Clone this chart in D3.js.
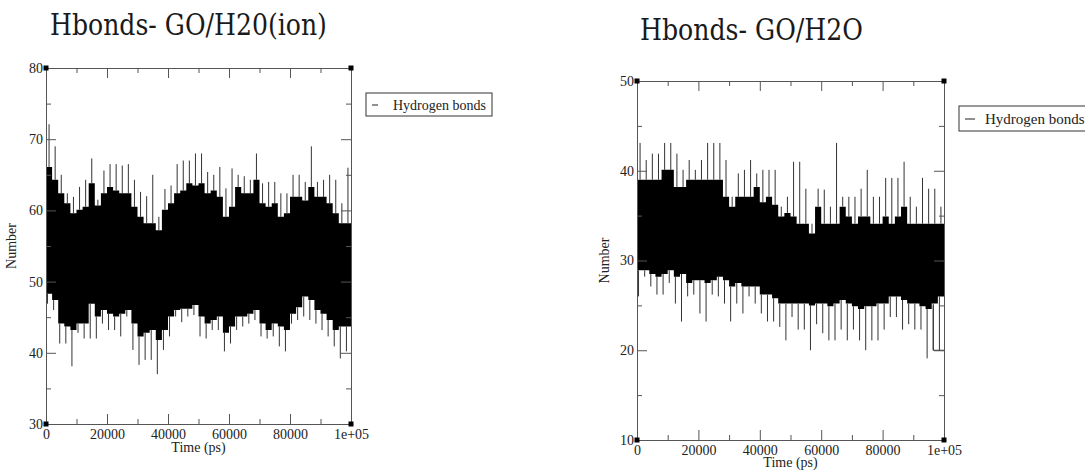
<!DOCTYPE html>
<html>
<head>
<meta charset="utf-8">
<script src="https://cdn.jsdelivr.net/npm/d3@7"></script>
<style>
  body { margin: 0; background: #fff; }
  svg { display: block; }
  .tick text { font-family: "Liberation Serif", "Times New Roman", serif; font-size: 14px; fill: #222; }
  .axis path, .axis line { stroke: #555; stroke-width: 1; }
  .label { font-family: "Liberation Serif", "Times New Roman", serif; font-size: 14px; fill: #222; }
  .title { font-family: "DejaVu Serif", serif; fill: #1a1a1a; }
</style>
</head>
<body>
<svg id="chart" width="1085" height="474"></svg>
<script>

// start time (ps) of each 2000 ps bin the traces were read in
var binTime = [0, 2000, 4000, 6000, 8000, 10000, 12000, 14000, 16000, 18000,
  20000, 22000, 24000, 26000, 28000, 30000, 32000, 34000, 36000, 38000,
  40000, 42000, 44000, 46000, 48000, 50000, 52000, 54000, 56000, 58000,
  60000, 62000, 64000, 66000, 68000, 70000, 72000, 74000, 76000, 78000,
  80000, 82000, 84000, 86000, 88000, 90000, 92000, 94000, 96000, 98000];

// GO/H2O(ion): highest spike, top of dense band, bottom of dense band, lowest spike per bin
var ionHigh = [72.1, 69.0, 65.0, 62.4, 61.9, 63.3, 64.3, 67.3, 61.5, 65.6,
  66.5, 66.5, 66.3, 66.5, 64.3, 62.6, 62.0, 65.0, 59.1, 63.0,
  63.5, 66.5, 67.0, 67.0, 68.0, 68.0, 65.4, 65.0, 66.1, 63.1,
  65.9, 65.0, 64.8, 64.3, 68.0, 63.8, 64.0, 64.0, 62.4, 62.4,
  65.0, 65.0, 64.0, 69.0, 64.0, 64.3, 65.0, 64.3, 61.0, 66.0];
var ionTop = [66.1, 64.3, 62.4, 61.0, 59.6, 60.1, 60.5, 63.8, 60.7, 62.4,
  63.3, 62.8, 62.4, 62.4, 60.5, 59.1, 58.2, 58.2, 57.2, 60.1,
  61.0, 62.4, 62.8, 63.8, 63.5, 63.8, 62.4, 62.8, 61.9, 59.1,
  60.5, 63.3, 62.4, 62.4, 64.3, 61.0, 60.5, 61.0, 59.1, 59.6,
  61.9, 61.9, 61.4, 63.3, 61.9, 61.9, 61.0, 59.6, 58.2, 58.2];
var ionBottom = [48.3, 47.4, 44.1, 43.7, 43.2, 44.1, 44.1, 46.9, 45.1, 46.0,
  45.5, 45.1, 45.5, 46.0, 44.1, 42.3, 42.8, 43.2, 41.8, 43.2,
  45.1, 46.0, 46.2, 46.2, 46.7, 45.1, 44.1, 44.6, 45.1, 42.8,
  43.7, 45.1, 45.1, 45.5, 46.0, 44.1, 43.2, 44.1, 43.7, 43.2,
  45.5, 46.4, 47.9, 47.4, 46.0, 45.5, 44.6, 43.2, 43.7, 43.7];
var ionLow = [46.9, 46.0, 41.3, 41.3, 38.1, 42.8, 42.0, 42.0, 42.0, 44.1,
  43.2, 43.2, 42.3, 45.1, 40.4, 38.3, 39.0, 39.0, 37.0, 40.4,
  42.3, 45.1, 44.3, 45.1, 45.3, 42.3, 42.0, 43.2, 43.2, 40.2,
  41.3, 43.2, 43.7, 44.1, 44.6, 42.3, 42.0, 42.3, 40.9, 40.2,
  44.1, 44.6, 45.1, 44.6, 44.1, 43.2, 42.3, 40.9, 39.2, 40.2];

// GO/H2O: same four envelopes
var waterHigh = [43.1, 41.2, 41.9, 41.9, 43.1, 43.1, 41.9, 40.1, 41.2, 40.1,
  41.2, 43.1, 43.1, 43.1, 41.2, 37.1, 39.7, 40.1, 41.2, 39.7,
  40.1, 40.1, 40.1, 36.0, 37.1, 41.0, 41.0, 38.0, 34.1, 38.0,
  37.9, 36.0, 43.1, 37.1, 37.1, 37.1, 38.0, 40.1, 37.1, 37.1,
  39.2, 39.2, 39.2, 41.0, 37.1, 36.0, 39.2, 38.0, 38.0, 36.0];
var waterTop = [39.0, 39.0, 39.0, 39.0, 40.1, 40.1, 38.2, 38.2, 39.0, 39.0,
  39.0, 39.0, 39.0, 39.0, 37.1, 36.0, 37.1, 37.1, 37.1, 38.2,
  36.5, 37.1, 36.2, 34.9, 35.3, 34.9, 34.1, 34.1, 33.0, 36.0,
  34.1, 34.1, 34.1, 36.0, 34.9, 34.1, 34.9, 34.9, 34.1, 34.1,
  34.9, 34.1, 34.9, 36.0, 34.1, 34.1, 34.1, 34.1, 34.1, 34.1];
var waterBottom = [28.9, 28.9, 28.5, 28.2, 28.5, 28.9, 28.2, 28.5, 27.5, 27.8,
  27.8, 27.5, 27.8, 28.2, 27.8, 27.1, 27.5, 27.1, 27.1, 27.1,
  26.2, 26.2, 25.8, 25.2, 25.2, 25.2, 25.2, 25.2, 25.0, 25.2,
  25.2, 24.9, 25.2, 25.6, 25.2, 24.9, 24.6, 24.9, 24.9, 25.2,
  25.2, 26.0, 26.0, 25.6, 25.2, 25.2, 24.9, 24.6, 25.2, 26.0];
var waterLow = [26.0, 28.2, 27.1, 26.2, 26.2, 27.5, 25.2, 23.2, 26.0, 26.2,
  24.1, 23.2, 26.2, 26.0, 25.2, 23.2, 25.2, 24.1, 26.0, 25.2,
  24.1, 23.2, 23.2, 22.6, 21.1, 23.7, 22.3, 22.3, 20.0, 22.9,
  21.9, 21.1, 21.1, 22.3, 21.1, 22.3, 21.1, 20.0, 21.1, 21.1,
  22.3, 23.7, 23.7, 22.3, 22.9, 22.3, 22.3, 19.1, 20.0, 20.0];
// last few frames of the GO/H2O run
var waterTailTime = [96500, 96500, 100000];
var waterTailValue = [25, 20, 20];

// axes
var xTicks = [0, 20000, 40000, 60000, 80000, 100000];
var xTickLabels = ["0", "20000", "40000", "60000", "80000", "1e+05"];
var xMinorTicks = [10000, 30000, 50000, 70000, 90000];
var ionYTicks = [30, 40, 50, 60, 70, 80];
var ionYMinor = [35, 45, 55, 65, 75];
var waterYTicks = [10, 20, 30, 40, 50];
var waterYMinor = [15, 25, 35, 45];

var svg = d3.select("#chart");

function draw_panel(cfg) {

  var g = svg.append("g")
    .attr("transform", "translate(" + cfg.left + "," + cfg.top + ")");

  var x = d3.scaleLinear().domain([0, 100000]).range([0, cfg.width]);
  var y = d3.scaleLinear().domain(cfg.yDomain).range([cfg.height, 0]);

  // rows for the dense band, closed at the end of the run
  var rows = binTime.map(function(t, i) {
    return {t: t, top: cfg.top_[i], bottom: cfg.bottom[i], high: cfg.high[i], low: cfg.low[i]};
  });
  var last = rows[rows.length - 1];
  var bandRows = rows.concat([{t: 100000, top: last.top, bottom: last.bottom}]);

  var band = d3.area()
    .x(function(d) { return x(d.t); })
    .y0(function(d) { return y(d.bottom); })
    .y1(function(d) { return y(d.top); })
    .curve(d3.curveStepAfter);

  g.append("path")
    .datum(bandRows)
    .attr("d", band)
    .attr("fill", "#000");

  // spikes above and below the band
  var spikes = "";
  rows.forEach(function(d) {
    var xs = x(d.t + 1000);
    var xl = x(d.t + 500);
    spikes += "M" + xs + "," + y(d.top) + "V" + y(d.high);
    spikes += "M" + xl + "," + y(d.bottom) + "V" + y(d.low);
  });
  g.append("path")
    .attr("d", spikes)
    .attr("stroke", "#333")
    .attr("stroke-width", 1)
    .attr("fill", "none");

  if (cfg.tailTime) {
    var tail = cfg.tailTime.map(function(t, i) { return [x(t), y(cfg.tailValue[i])]; });
    g.append("path")
      .attr("d", d3.line()(tail))
      .attr("stroke", "#333")
      .attr("fill", "none");
  }

  // axes, ticks pointing inwards
  g.append("g").attr("class", "axis")
    .attr("transform", "translate(0," + cfg.height + ")")
    .call(d3.axisBottom(x).tickValues(xTicks).tickSize(-10).tickSizeOuter(0).tickPadding(5)
      .tickFormat(function(d, i) { return xTickLabels[i]; }));
  g.append("g").attr("class", "axis")
    .attr("transform", "translate(0," + cfg.height + ")")
    .call(d3.axisBottom(x).tickValues(xMinorTicks).tickSize(-5).tickSizeOuter(0).tickFormat(""));
  g.append("g").attr("class", "axis")
    .call(d3.axisTop(x).tickValues(xTicks).tickSize(-10).tickSizeOuter(0).tickFormat(""));
  g.append("g").attr("class", "axis")
    .call(d3.axisTop(x).tickValues(xMinorTicks).tickSize(-5).tickSizeOuter(0).tickFormat(""));

  g.append("g").attr("class", "axis")
    .call(d3.axisLeft(y).tickValues(cfg.yTicks).tickSize(-10).tickSizeOuter(0).tickPadding(3));
  g.append("g").attr("class", "axis")
    .call(d3.axisLeft(y).tickValues(cfg.yMinor).tickSize(-5).tickSizeOuter(0).tickFormat(""));
  g.append("g").attr("class", "axis")
    .attr("transform", "translate(" + cfg.width + ",0)")
    .call(d3.axisRight(y).tickValues(cfg.yTicks).tickSize(-10).tickSizeOuter(0).tickFormat(""));
  g.append("g").attr("class", "axis")
    .attr("transform", "translate(" + cfg.width + ",0)")
    .call(d3.axisRight(y).tickValues(cfg.yMinor).tickSize(-5).tickSizeOuter(0).tickFormat(""));

  // small corner squares
  var corners = [[0, cfg.yDomain[0]], [0, cfg.yDomain[1]], [100000, cfg.yDomain[0]], [100000, cfg.yDomain[1]]];
  g.selectAll(".corner").data(corners).enter().append("rect")
    .attr("class", "corner")
    .attr("x", function(d) { return x(d[0]) - 2.5; })
    .attr("y", function(d) { return y(d[1]) - 2.5; })
    .attr("width", 5).attr("height", 5)
    .attr("fill", "#000");

  // axis titles
  g.append("text").attr("class", "label")
    .attr("x", cfg.width / 2).attr("y", cfg.height + cfg.xLabelOffset)
    .attr("text-anchor", "middle")
    .text("Time (ps)");
  g.append("text").attr("class", "label")
    .attr("transform", "translate(" + cfg.yLabelX + "," + (cfg.height / 2) + ") rotate(-90)")
    .attr("text-anchor", "middle")
    .text("Number");

  // legend
  var lg = svg.append("g").attr("transform", "translate(" + cfg.legend[0] + "," + cfg.legend[1] + ")");
  lg.append("rect")
    .attr("width", cfg.legend[2]).attr("height", cfg.legend[3])
    .attr("fill", "#fff").attr("stroke", "#333");
  lg.append("line")
    .attr("x1", 6).attr("x2", 6 + cfg.legendDash)
    .attr("y1", cfg.legend[3] / 2 + 0.5).attr("y2", cfg.legend[3] / 2 + 0.5)
    .attr("stroke", "#222");
  lg.append("text").attr("class", "label")
    .attr("x", cfg.legendText).attr("y", cfg.legend[3] / 2 + 5)
    .style("font-size", cfg.legendFont + "px")
    .text("Hydrogen bonds");

  // panel title, sized to the width it has in the picture and a bit taller
  var title = svg.append("text").attr("class", "title")
    .attr("transform", "translate(" + cfg.title[0] + "," + cfg.title[1] + ") scale(1,1.15)")
    .style("font-size", "24px")
    .text(cfg.titleText);
  var w = title.node().getComputedTextLength();
  title.style("font-size", (24 * cfg.title[2] / w) + "px");
}

draw_panel({
  left: 46, top: 68, width: 305, height: 356,
  yDomain: [30, 80], yTicks: ionYTicks, yMinor: ionYMinor,
  high: ionHigh, top_: ionTop, bottom: ionBottom, low: ionLow,
  xLabelOffset: 28, yLabelX: -30,
  legend: [366, 93, 126, 23], legendDash: 6, legendText: 27, legendFont: 14,
  title: [50, 35, 277], titleText: "Hbonds- GO/H20(ion)"
});

draw_panel({
  left: 637, top: 81, width: 307, height: 359,
  yDomain: [10, 50], yTicks: waterYTicks, yMinor: waterYMinor,
  high: waterHigh, top_: waterTop, bottom: waterBottom, low: waterLow,
  tailTime: waterTailTime, tailValue: waterTailValue,
  xLabelOffset: 27, yLabelX: -28,
  legend: [959, 106, 140, 25], legendDash: 10, legendText: 26, legendFont: 15,
  title: [640, 40, 223], titleText: "Hbonds- GO/H2O"
});

</script>
</body>
</html>
